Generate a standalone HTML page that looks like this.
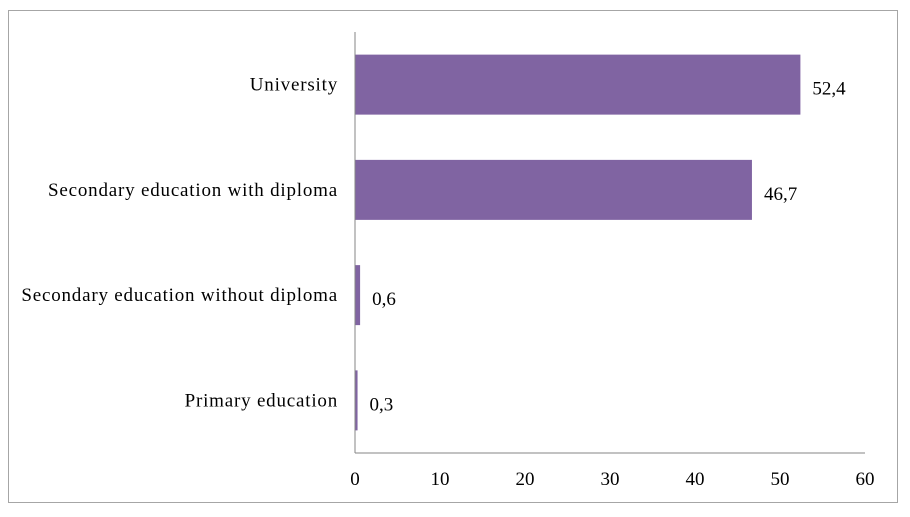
<!DOCTYPE html>
<html><head><meta charset="utf-8"><style>
html,body{margin:0;padding:0;background:#fff;}
svg text{font-family:"Liberation Serif",serif;font-size:19px;fill:#000;}
svg text.cat{letter-spacing:0.8px;}
</style></head><body>
<svg width="910" height="512">
<rect x="8.5" y="10.5" width="889" height="492" fill="#fff" stroke="#a6a6a6"/>
<g id="plot"></g>
</svg>
<script>
const categories=["University","Secondary education with diploma","Secondary education without diploma","Primary education"];
const values=[52.4,46.7,0.6,0.3];
const valueLabels=["52,4","46,7","0,6","0,3"];
const ticks=[0,10,20,30,40,50,60];
const x0=355,x1=865,plotTop=32,plotBottom=453,xmax=60;
const xs=v=>x0+(v/xmax)*(x1-x0);
const band=(plotBottom-plotTop)/categories.length;
const ys=i=>plotTop+band*i;
const g=document.getElementById('plot');
const NS='http://www.w3.org/2000/svg';
function mk(t,a){const e=document.createElementNS(NS,t);for(const k in a)e.setAttribute(k,a[k]);g.appendChild(e);return e;}
categories.forEach((c,i)=>{
  const y=ys(i)+(band-60)/2;
  const r=mk('rect',{x:xs(0),y:y,width:Math.max(xs(values[i])-xs(0),1.5),height:60,fill:'#8064a2'});
  
  
  const l=mk('text',{x:x0-17,y:ys(i)+band/2+6,'text-anchor':'end','class':'cat'});l.textContent=c;
  
  
  const v=mk('text',{x:xs(values[i])+12,y:ys(i)+band/2+10});v.textContent=valueLabels[i];
  
  
});
const ya=mk('line',{x1:x0,y1:plotTop,x2:x0,y2:plotBottom,stroke:'#868686','stroke-width':1});


const xa=mk('line',{x1:x0,y1:plotBottom,x2:x1,y2:plotBottom,stroke:'#868686','stroke-width':1});


ticks.forEach(t=>{
  const e=mk('text',{x:xs(t),y:485,'text-anchor':'middle'});e.textContent=t;
  
  
});
</script>
</body></html>
